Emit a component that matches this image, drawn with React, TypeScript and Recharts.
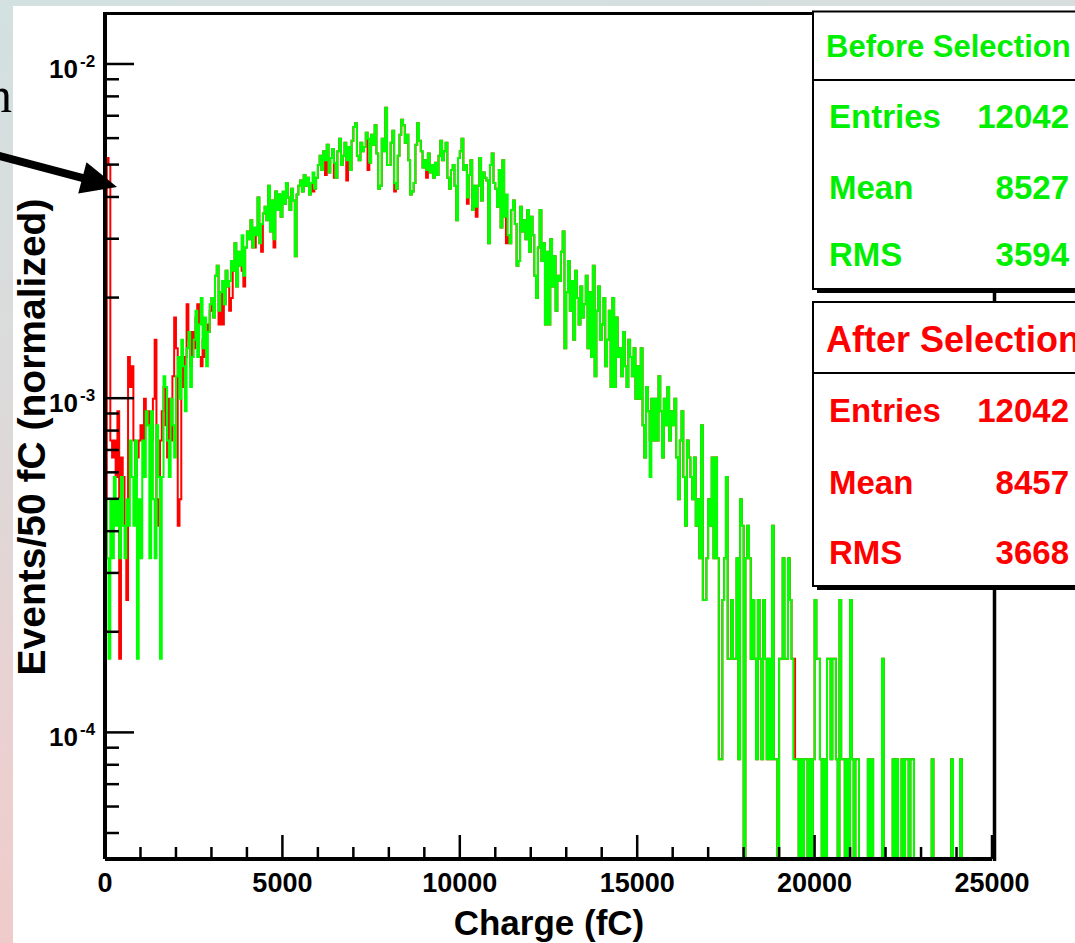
import { Line, LineChart, XAxis, YAxis } from "recharts"

// charge histogram, 50 fC bins from 0 to 25000 fC (500 bins), raw counts
const ENTRIES = 12042
const BIN_WIDTH = 50

// "Before Selection" counts, 20 bins (1000 fC) per row
const beforeCounts = [
  6, 4, 2, 6, 4, 7, 5, 6, 4, 7, 5, 4, 6, 5, 9, 7, 5, 9, 2, 6,
  4, 9, 7, 11, 10, 4, 11, 6, 4, 10, 7, 2, 7, 14, 13, 9, 7, 12, 10, 8,
  14, 16, 12, 18, 15, 11, 17, 19, 13, 16, 18, 22, 16, 20, 24, 17, 21, 15, 19, 23,
  24, 21, 28, 30, 22, 25, 27, 23, 29, 26, 27, 31, 29, 35, 26, 33, 30, 37, 28, 34,
  38, 36, 41, 34, 39, 37, 48, 35, 40, 43, 45, 41, 52, 38, 47, 36, 50, 44, 49, 42,
  50, 46, 53, 48, 44, 51, 47, 32, 49, 52, 54, 50, 56, 52, 55, 49, 53, 57, 51, 55,
  60, 64, 58, 66, 62, 69, 57, 63, 67, 61, 55, 66, 72, 60, 64, 70, 62, 68, 58, 71,
  78, 80, 64, 62, 70, 66, 68, 75, 72, 61, 74, 69, 79, 65, 51, 52, 72, 66, 89, 60,
  60, 70, 76, 53, 51, 64, 74, 82, 79, 70, 74, 62, 49, 50, 53, 69, 80, 71, 66, 59,
  62, 58, 65, 57, 60, 55, 61, 56, 64, 71, 62, 66, 70, 55, 51, 58, 60, 52, 41, 63,
  66, 72, 58, 60, 48, 56, 62, 44, 52, 45, 52, 63, 47, 57, 55, 54, 35, 60, 65, 53,
  51, 45, 58, 39, 62, 42, 49, 37, 35, 44, 47, 40, 30, 31, 45, 38, 41, 36, 44, 33,
  42, 37, 28, 24, 34, 44, 31, 35, 20, 33, 20, 36, 26, 32, 22, 28, 27, 33, 38, 17,
  25, 31, 22, 27, 18, 29, 24, 20, 26, 21, 23, 28, 17, 25, 16, 30, 14, 22, 26, 18,
  20, 24, 15, 18, 22, 13, 24, 13, 21, 16, 17, 14, 19, 15, 13, 18, 16, 14, 17, 12,
  15, 12, 17, 10, 8, 13, 11, 7, 12, 9, 12, 9, 14, 11, 8, 12, 10, 13, 9, 11,
  10, 12, 8, 6, 9, 11, 7, 5, 9, 8, 7, 6, 8, 5, 6, 4, 10, 3, 3, 4,
  6, 5, 8, 4, 8, 4, 1, 1, 3, 4, 7, 2, 2, 3, 2, 2, 4, 1, 6, 5,
  0, 4, 5, 4, 2, 3, 2, 1, 3, 2, 1, 3, 2, 1, 2, 1, 5, 1, 1, 0,
  2, 2, 4, 2, 2, 4, 3, 2, 1, 1, 1, 0, 1, 0, 1, 1, 0, 1, 0, 1,
  3, 2, 2, 1, 0, 1, 0, 2, 2, 1, 2, 2, 1, 0, 3, 1, 1, 0, 1, 0,
  3, 1, 0, 1, 1, 0, 0, 0, 0, 0, 1, 0, 1, 0, 0, 0, 0, 0, 2, 0,
  0, 0, 0, 0, 1, 0, 1, 0, 0, 1, 0, 1, 1, 0, 1, 1, 0, 0, 0, 0,
  0, 0, 0, 0, 0, 0, 1, 0, 0, 0, 0, 0, 0, 0, 0, 0, 0, 1, 0, 0,
  0, 0, 1, 0, 0, 0, 0, 0, 0, 0, 0, 0, 0, 0, 0, 0, 0, 0, 0, 0,
]

// "After Selection": first 3000 fC differ (pedestal spike), then same as before except a few bins
const afterLowCounts = [
  4, 63, 60, 9, 8, 9, 7, 11, 2, 8, 7, 5, 3, 16, 13, 15, 9, 7, 8, 9,
  10, 9, 12, 10, 11, 10, 9, 12, 18, 6, 5, 9, 11, 13, 10, 8, 12, 9, 14, 21,
  17, 5, 6, 15, 13, 16, 23, 18, 15, 19, 17, 21, 23, 16, 15, 18, 16, 20, 19, 22,
]
const afterChangedBins: [number, number][] = [
  [64, 20], [66, 20], [70, 22], [71, 24], [77, 29], [78, 26], [84, 34], [88, 33],
  [95, 34], [100, 47], [117, 50], [124, 56], [129, 55], [136, 54], [148, 58],
  [163, 50], [181, 55], [204, 46], [209, 42], [226, 35], [307, 9], [388, 2],
]

const xTicks = [
  0, 1000, 2000, 3000, 4000, 5000, 6000, 7000, 8000, 9000, 10000, 11000, 12000,
  13000, 14000, 15000, 16000, 17000, 18000, 19000, 20000, 21000, 22000, 23000, 24000, 25000,
]
const yTicks = [
  5e-5, 6e-5, 7e-5, 8e-5, 9e-5,
  1e-4, 2e-4, 3e-4, 4e-4, 5e-4, 6e-4, 7e-4, 8e-4, 9e-4,
  1e-3, 2e-3, 3e-3, 4e-3, 5e-3, 6e-3, 7e-3, 8e-3, 9e-3,
  1e-2,
]

const beforeStats = [["Entries", "12042"], ["Mean", "8527"], ["RMS", "3594"]]
const afterStats = [["Entries", "12042"], ["Mean", "8457"], ["RMS", "3668"]]

const GREEN = "#00ff00"
const RED = "#ff0000"
const FONT = "'Liberation Sans', Arial, Helvetica, sans-serif"

const afterCounts = beforeCounts.map((c, i) => (i < afterLowCounts.length ? afterLowCounts[i] : c))
afterChangedBins.forEach(([bin, c]) => {
  afterCounts[bin] = c
})

// empty bins are pushed below the axis so the step drops out of the frame like ROOT does
const EMPTY = 1e-7
const norm = (c: number) => (c > 0 ? c / ENTRIES : EMPTY)

const data = beforeCounts.map((c, i) => ({
  q: i * BIN_WIDTH,
  before: norm(c),
  after: norm(afterCounts[i]),
}))
data.push({
  q: beforeCounts.length * BIN_WIDTH,
  before: norm(beforeCounts[beforeCounts.length - 1]),
  after: norm(afterCounts[afterCounts.length - 1]),
})

function XTick({ x, y, payload }: any) {
  const v = payload.value
  const major = v % 5000 === 0
  return (
    <g>
      <line x1={x} x2={x} y1={y} y2={y - (major ? 24 : 12)} stroke="#000" strokeWidth={2.5} />
      {major && (
        <text x={x} y={y + 33} textAnchor="middle" fontFamily={FONT} fontWeight="bold" fontSize={27} fill="#000">
          {v}
        </text>
      )}
    </g>
  )
}

function YTick({ x, y, payload }: any) {
  const e = Math.log10(payload.value)
  const exp = Math.round(e)
  const major = Math.abs(e - exp) < 1e-6
  return (
    <g>
      <line x1={x} x2={x + (major ? 29 : 14)} y1={y} y2={y} stroke="#000" strokeWidth={2.5} />
      {major && (
        <g fontFamily={FONT} fontWeight="bold" fill="#000">
          <text x={x - 27} y={y + 14} textAnchor="end" fontSize={26}>
            10
          </text>
          <text x={x - 25} y={y + 3} fontSize={17}>
            {exp}
          </text>
        </g>
      )}
    </g>
  )
}

function StatBox({ top, bottom, divider, title, titleSize, titleBase, rows, rowBases, color }: any) {
  const left = 813
  return (
    <g fontFamily={FONT} fontWeight="bold">
      <rect x={left + 4} y={top + 4} width={300} height={bottom - top} fill="#000" />
      <rect x={left} y={top} width={300} height={bottom - top} fill="#fff" stroke="#000" strokeWidth={2} />
      <line x1={left} x2={1075} y1={divider} y2={divider} stroke="#000" strokeWidth={2} />
      <text x={left + 13} y={titleBase} fontSize={titleSize} fill={color}>
        {title}
      </text>
      {rows.map((r: string[], i: number) => (
        <g key={r[0]} fontSize={33} fill={color}>
          <text x={left + 16} y={rowBases[i]}>
            {r[0]}
          </text>
          <text x={1069} y={rowBases[i]} textAnchor="end">
            {r[1]}
          </text>
        </g>
      ))}
    </g>
  )
}

export default function App() {
  return (
    <div
      style={{
        position: "absolute",
        left: 0,
        top: 0,
        width: 1075,
        height: 943,
        overflow: "hidden",
        background: "linear-gradient(170deg, #d3e1e1 0%, #dcdada 35%, #eccfcf 70%, #f4c6c6 100%)",
      }}
    >
      <div style={{ position: "absolute", left: 13, top: 6, right: 0, bottom: 0, background: "#fff" }} />
      <div style={{ position: "absolute", left: 0, top: 0 }}>
        <LineChart width={1075} height={943} data={data} margin={{ top: 13.5, right: 83, bottom: 83, left: 104 }}>
          <XAxis
            dataKey="q"
            type="number"
            domain={[0, 25000]}
            ticks={xTicks}
            interval={0}
            height={1}
            tickSize={0}
            tickMargin={0}
            tickLine={false}
            tick={(p: any) => <XTick {...p} />}
            axisLine={{ stroke: "#000", strokeWidth: 4 }}
            allowDataOverflow
          />
          <YAxis
            type="number"
            scale="log"
            domain={[4.18e-5, 0.01416]}
            ticks={yTicks}
            interval={0}
            width={1}
            tickSize={0}
            tickMargin={0}
            tickLine={false}
            tick={(p: any) => <YTick {...p} />}
            axisLine={{ stroke: "#000", strokeWidth: 4 }}
            allowDataOverflow
          />
          <Line dataKey="after" type="stepAfter" stroke={RED} strokeWidth={2} dot={false} isAnimationActive={false} />
          <Line dataKey="before" type="stepAfter" stroke={GREEN} strokeWidth={2} dot={false} isAnimationActive={false} />
        </LineChart>
      </div>
      <svg width={1075} height={943} style={{ position: "absolute", left: 0, top: 0, pointerEvents: "none" }}>
        <line x1={103} x2={996} y1={13.5} y2={13.5} stroke="#000" strokeWidth={3} />
        <line x1={994.5} x2={994.5} y1={12} y2={861} stroke="#000" strokeWidth={3.5} />

        <text x={12} y={112} textAnchor="end" fontFamily="'Liberation Serif', 'DejaVu Serif', serif" fontSize={50} fill="#000">
          n
        </text>
        <line x1={-2} y1={155.5} x2={84} y2={178.3} stroke="#000" strokeWidth={8} />
        <polygon points="117,187 86.5,162.3 78.2,193.5" fill="#000" />

        <text
          x={45}
          y={437}
          transform="rotate(-90 45 437)"
          textAnchor="middle"
          fontFamily={FONT}
          fontWeight="bold"
          fontSize={39}
          fill="#000"
        >
          Events/50 fC (normalized)
        </text>
        <text x={549} y={935} textAnchor="middle" fontFamily={FONT} fontWeight="bold" fontSize={35} fill="#000">
          Charge (fC)
        </text>

        <StatBox
          top={11.5}
          bottom={289}
          divider={80}
          title="Before Selection"
          titleSize={31}
          titleBase={57}
          rows={beforeStats}
          rowBases={[128, 199, 266]}
          color="#00ee00"
        />
        <StatBox
          top={302}
          bottom={586}
          divider={373}
          title="After Selection"
          titleSize={36}
          titleBase={352}
          rows={afterStats}
          rowBases={[422, 494, 564]}
          color={RED}
        />
      </svg>
    </div>
  )
}
